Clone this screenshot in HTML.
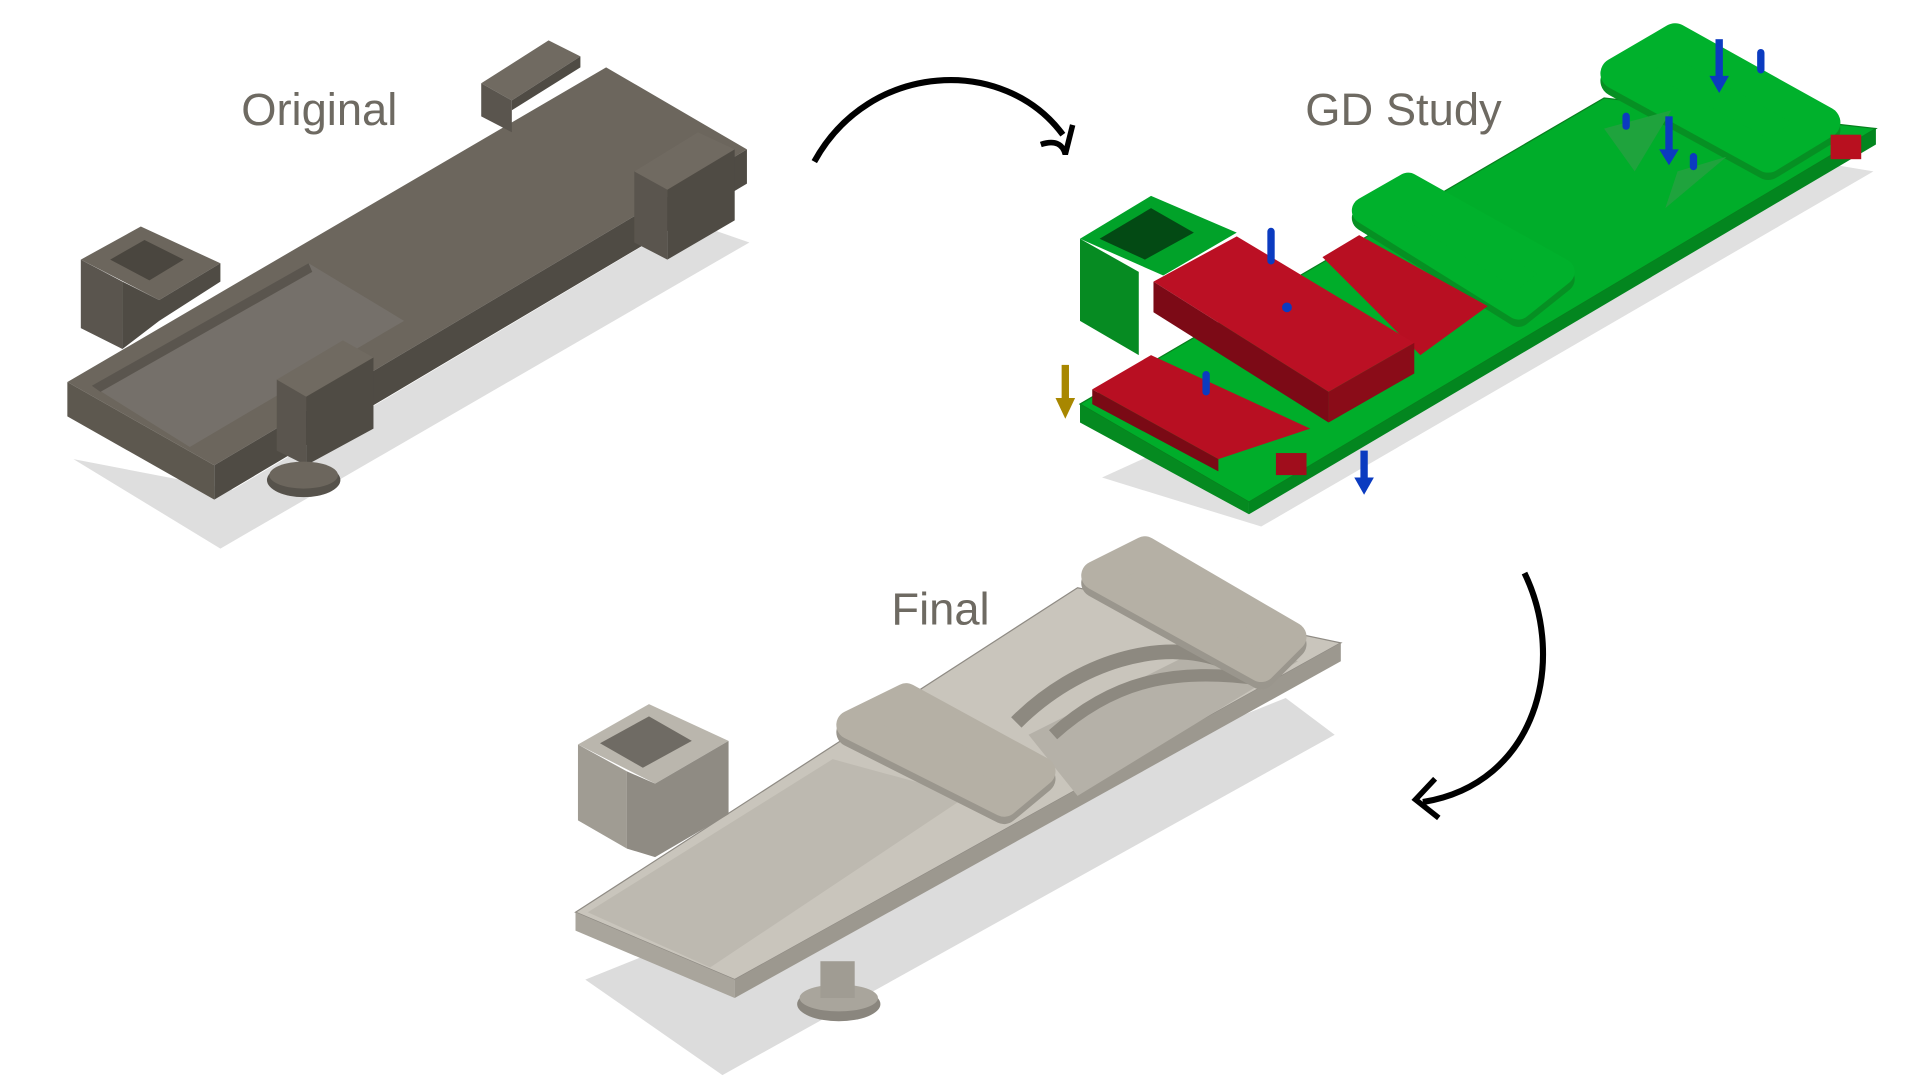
<!DOCTYPE html>
<html><head><meta charset="utf-8"><style>
html,body{margin:0;padding:0;background:#fff;width:1920px;height:1080px;overflow:hidden}
svg{display:block}
text{font-family:"Liberation Sans",sans-serif;fill:#6e6a62}
</style></head><body>
<svg width="1920" height="1080" viewBox="0 0 1568 882" xmlns="http://www.w3.org/2000/svg">
<!-- Labels -->
<text x="197" y="102" font-size="37">Original</text>
<text x="1066" y="102" font-size="37">GD Study</text>
<text x="728" y="510" font-size="37">Final</text>
<!-- Arrows -->
<path d="M665,132 C710,50 820,45 868,110" fill="none" stroke="#000" stroke-width="5"/>
<path d="M850,118 C862,114 868,118 870,126 L876,102" fill="none" stroke="#000" stroke-width="4.5"/>
<path d="M1245,468 C1280,540 1255,640 1162,655" fill="none" stroke="#000" stroke-width="5"/>
<path d="M1172,636 L1156,653 L1175,668" fill="none" stroke="#000" stroke-width="4.5"/>

<!-- ORIGINAL -->
<polygon points="60,375 180,448 612,198 560,180 190,400" fill="#dedede"/>
<polygon points="55,312 495,55 610,122 175,380" fill="#6c665d"/>
<polygon points="55,312 175,380 175,408 55,340" fill="#5d584f"/>
<polygon points="175,380 610,122 610,150 175,408" fill="#4f4b44"/>
<polygon points="75,315 252,215 330,262 155,365" fill="#75706a"/>
<polygon points="75,315 252,215 255,222 82,320" fill="#5a554e"/>
<polygon points="66,212 115,185 180,215 130,245" fill="#6c665d"/>
<polygon points="90,212 118,196 150,212 122,229" fill="#4a463f"/>
<polygon points="66,212 100,230 100,285 66,268" fill="#5a554e"/>
<polygon points="100,230 130,245 180,215 180,230 130,262 100,285" fill="#4f4b44"/>
<polygon points="393,68 448,33 474,46 418,82" fill="#706a61"/>
<polygon points="393,68 418,82 418,108 393,95" fill="#5a554e"/>
<polygon points="418,82 474,46 474,55 418,90" fill="#4f4b44"/>
<polygon points="518,140 570,108 600,122 545,155" fill="#706a61"/>
<polygon points="518,140 545,155 545,212 518,198" fill="#5a554e"/>
<polygon points="545,155 600,122 600,180 545,212" fill="#4f4b44"/>
<polygon points="226,310 280,278 305,292 250,324" fill="#706a61"/>
<polygon points="226,310 250,324 250,380 226,368" fill="#5a554e"/>
<polygon points="250,324 305,292 305,350 250,380" fill="#4f4b44"/>
<ellipse cx="248" cy="392" rx="30" ry="14" fill="#56524b"/>
<ellipse cx="248" cy="388" rx="28" ry="11" fill="#6c665d"/>

<!-- GD STUDY -->
<polygon points="900,390 1030,430 1530,140 1470,130" fill="#e0e0e0"/>
<polygon points="882,330 1310,80 1532,105 1020,410" fill="#00ad2a" stroke="#087f1e"/>
<polygon points="882,330 1020,410 1020,420 882,345" fill="#058a20"/>
<polygon points="1020,410 1532,105 1532,118 1020,420" fill="#03861f"/>
<!-- top pad -->
<polygon points="1320,60 1368,32 1490,100 1444,128" fill="#069023" stroke="#069023" stroke-width="26" stroke-linejoin="round" transform="translate(0,6)"/>
<polygon points="1320,60 1368,32 1490,100 1444,128" fill="#00b12c" stroke="#00b12c" stroke-width="26" stroke-linejoin="round"/>
<rect x="1495" y="110" width="25" height="20" fill="#b8101f"/>
<!-- middle pad -->
<polygon points="1115,172 1150,152 1275,222 1240,250" fill="#069023" stroke="#069023" stroke-width="22" stroke-linejoin="round" transform="translate(0,6)"/>
<polygon points="1115,172 1150,152 1275,222 1240,250" fill="#00b12c" stroke="#00b12c" stroke-width="22" stroke-linejoin="round"/>
<polygon points="1310,105 1365,90 1335,140" fill="#1fa33d"/>
<polygon points="1370,140 1410,128 1360,170" fill="#1fa33d"/>
<!-- left box -->
<polygon points="882,195 940,160 1010,190 950,225" fill="#01a229"/>
<polygon points="898,195 940,170 975,190 935,212" fill="#034a14"/>
<polygon points="882,195 930,222 930,290 882,262" fill="#068b22"/>
<!-- red blocks -->
<polygon points="1080,210 1110,192 1215,250 1160,290" fill="#b80f22"/>
<polygon points="942,230 1010,193 1155,280 1085,320" fill="#bb1024"/>
<polygon points="942,230 1085,320 1085,345 942,255" fill="#7c0a16"/>
<polygon points="1085,320 1155,280 1155,305 1085,345" fill="#8a0c18"/>
<polygon points="892,318 940,290 1070,350 995,375" fill="#b80f22"/>
<polygon points="892,318 995,375 995,385 892,330" fill="#7a0a15"/>
<rect x="1042" y="370" width="25" height="18" fill="#a00d1c"/>
<g fill="#0b3bc0">
<rect x="1035" y="186" width="6" height="30" rx="3"/>
<rect x="982" y="303" width="6" height="20" rx="3"/>
<circle cx="1051" cy="251" r="4"/>
<rect x="1401" y="32" width="6" height="36"/><polygon points="1396,62 1412,62 1404,76"/>
<rect x="1360" y="95" width="6" height="30"/><polygon points="1355,122 1371,122 1363,135"/>
<rect x="1111" y="368" width="6" height="25"/><polygon points="1106,390 1122,390 1114,404"/>
<rect x="1435" y="40" width="6" height="20" rx="3"/>
<rect x="1325" y="92" width="6" height="14" rx="3"/>
<rect x="1380" y="125" width="6" height="14" rx="3"/>
</g>
<rect x="867" y="298" width="6" height="30" fill="#a88700"/><polygon points="862,325 878,325 870,342" fill="#a88700"/>

<!-- FINAL -->
<polygon points="478,800 590,878 1090,600 1050,570" fill="#dcdcdc"/>
<polygon points="470,745 880,480 1095,525 600,800" fill="#c9c5bc" stroke="#8f8b84"/>
<polygon points="470,745 600,800 600,815 470,760" fill="#a9a59c"/>
<polygon points="600,800 1095,525 1095,540 600,815" fill="#9c988f"/>
<polygon points="480,745 680,620 790,650 580,790" fill="#bdb9b0"/>
<polygon points="840,600 1000,520 1060,540 880,650" fill="#b5b1a8"/>
<path d="M830,590 C880,540 950,520 1000,540" stroke="#8d8980" stroke-width="12" fill="none"/>
<path d="M860,600 C910,555 960,545 1030,555" stroke="#8d8980" stroke-width="10" fill="none"/>
<polygon points="895,470 935,450 1055,520 1030,545" fill="#9a968d" stroke="#9a968d" stroke-width="24" stroke-linejoin="round" transform="translate(0,6)"/>
<polygon points="895,470 935,450 1055,520 1030,545" fill="#b5b0a5" stroke="#b5b0a5" stroke-width="24" stroke-linejoin="round"/>
<polygon points="695,592 740,570 850,630 820,655" fill="#9a968d" stroke="#9a968d" stroke-width="24" stroke-linejoin="round" transform="translate(0,6)"/>
<polygon points="695,592 740,570 850,630 820,655" fill="#b5b0a5" stroke="#b5b0a5" stroke-width="24" stroke-linejoin="round"/>
<polygon points="472,608 530,575 595,605 535,640" fill="#bab6ad"/>
<polygon points="490,607 530,585 565,605 525,627" fill="#6f6b64"/>
<polygon points="472,608 512,630 512,693 472,670" fill="#a09c93"/>
<polygon points="512,630 535,640 595,605 595,665 535,700 512,693" fill="#8f8b83"/>
<ellipse cx="685" cy="820" rx="34" ry="14" fill="#8a867e"/>
<ellipse cx="685" cy="815" rx="32" ry="11" fill="#a9a59c"/>
<rect x="670" y="785" width="28" height="30" fill="#a09c93"/>
</svg>
</body></html>
